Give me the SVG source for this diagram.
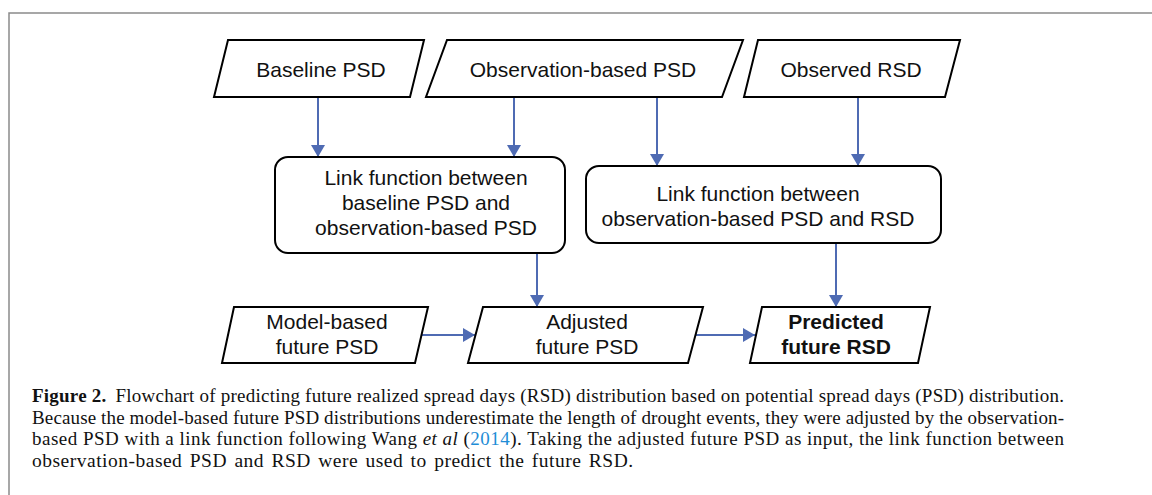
<svg xmlns="http://www.w3.org/2000/svg" width="1152" height="495" viewBox="0 0 1152 495">
<style>
.shape{fill:#fff;stroke:#000;stroke-width:2;stroke-linejoin:miter}
.lbl{font-family:"Liberation Sans",Arial,sans-serif;font-size:21px;fill:#111;text-anchor:middle}
.bold{font-weight:bold}
.conn{stroke:#4f6bb3;stroke-width:2;fill:none}
.cap{font-family:"Liberation Serif","Times New Roman",serif;font-size:19px;fill:#111}
</style>
<defs>
<marker id="ah" markerUnits="userSpaceOnUse" markerWidth="14" markerHeight="14" viewBox="0 0 12 14" refX="12" refY="7" orient="auto">
<path d="M0,0 L12,7 L0,14 Z" fill="#4f6bb3"/>
</marker>
</defs>
<rect width="1152" height="495" fill="#fff"/>
<path d="M9,495 V13 H1152" fill="none" stroke="#8a8a8a" stroke-width="1.5"/>

<g id="connectors">
<line class="conn" x1="318" y1="97" x2="318" y2="157" marker-end="url(#ah)"/>
<line class="conn" x1="514" y1="97" x2="514" y2="157" marker-end="url(#ah)"/>
<line class="conn" x1="657" y1="97" x2="657" y2="166" marker-end="url(#ah)"/>
<line class="conn" x1="858" y1="97" x2="858" y2="166" marker-end="url(#ah)"/>
<line class="conn" x1="537" y1="253" x2="537" y2="307" marker-end="url(#ah)"/>
<line class="conn" x1="836" y1="243" x2="836" y2="307" marker-end="url(#ah)"/>
<line class="conn" x1="418" y1="335" x2="475" y2="335" marker-end="url(#ah)"/>
<line class="conn" x1="694" y1="335" x2="755" y2="335" marker-end="url(#ah)"/>
</g>

<g id="baseline-psd">
<polygon class="shape" points="228,40 424,40 410,97 214,97"/>
<text class="lbl" x="321" y="77">Baseline PSD</text>
</g>
<g id="observation-psd">
<polygon class="shape" points="447,40 743,40 722,97 426,97"/>
<text class="lbl" x="583" y="77">Observation-based PSD</text>
</g>
<g id="observed-rsd">
<polygon class="shape" points="758,40 960,40 945,97 744,97"/>
<text class="lbl" x="851" y="77">Observed RSD</text>
</g>
<g id="link-baseline">
<rect class="shape" x="275" y="157" width="290" height="96" rx="13"/>
<text class="lbl" x="426" y="185">Link function between</text>
<text class="lbl" x="426" y="210">baseline PSD and</text>
<text class="lbl" x="426" y="235">observation-based PSD</text>
</g>
<g id="link-observation">
<rect class="shape" x="586" y="166" width="355" height="77" rx="13"/>
<text class="lbl" x="758" y="201">Link function between</text>
<text class="lbl" x="758" y="226">observation-based PSD and RSD</text>
</g>
<g id="model-future">
<polygon class="shape" points="234,307 428,307 415,363 222,363"/>
<text class="lbl" x="327" y="329">Model-based</text>
<text class="lbl" x="327" y="354">future PSD</text>
</g>
<g id="adjusted-future">
<polygon class="shape" points="483,307 703,307 688,363 468,363"/>
<text class="lbl" x="587" y="329">Adjusted</text>
<text class="lbl" x="587" y="354">future PSD</text>
</g>
<g id="predicted-future">
<polygon class="shape" points="762,307 930,307 918,363 750,363"/>
<text class="lbl bold" x="836" y="329">Predicted</text>
<text class="lbl bold" x="836" y="354">future RSD</text>
</g>

<g id="caption">
<text class="cap" x="32" y="402" textLength="1032" lengthAdjust="spacing"><tspan font-weight="bold">Figure 2.</tspan><tspan dx="9">Flowchart of predicting future realized spread days (RSD) distribution based on potential spread days (PSD) distribution.</tspan></text>
<text class="cap" x="32" y="423.5" textLength="1032" lengthAdjust="spacing">Because the model-based future PSD distributions underestimate the length of drought events, they were adjusted by the observation-</text>
<text class="cap" x="32" y="445" textLength="1032" lengthAdjust="spacing">based PSD with a link function following Wang <tspan font-style="italic">et al</tspan> (<tspan fill="#1f8dd6">2014</tspan>). Taking the adjusted future PSD as input, the link function between</text>
<text class="cap" x="32" y="466.5" style="font-size:19.5px;letter-spacing:0.5px;word-spacing:2px">observation-based PSD and RSD were used to predict the future RSD.</text>
</g>
</svg>
